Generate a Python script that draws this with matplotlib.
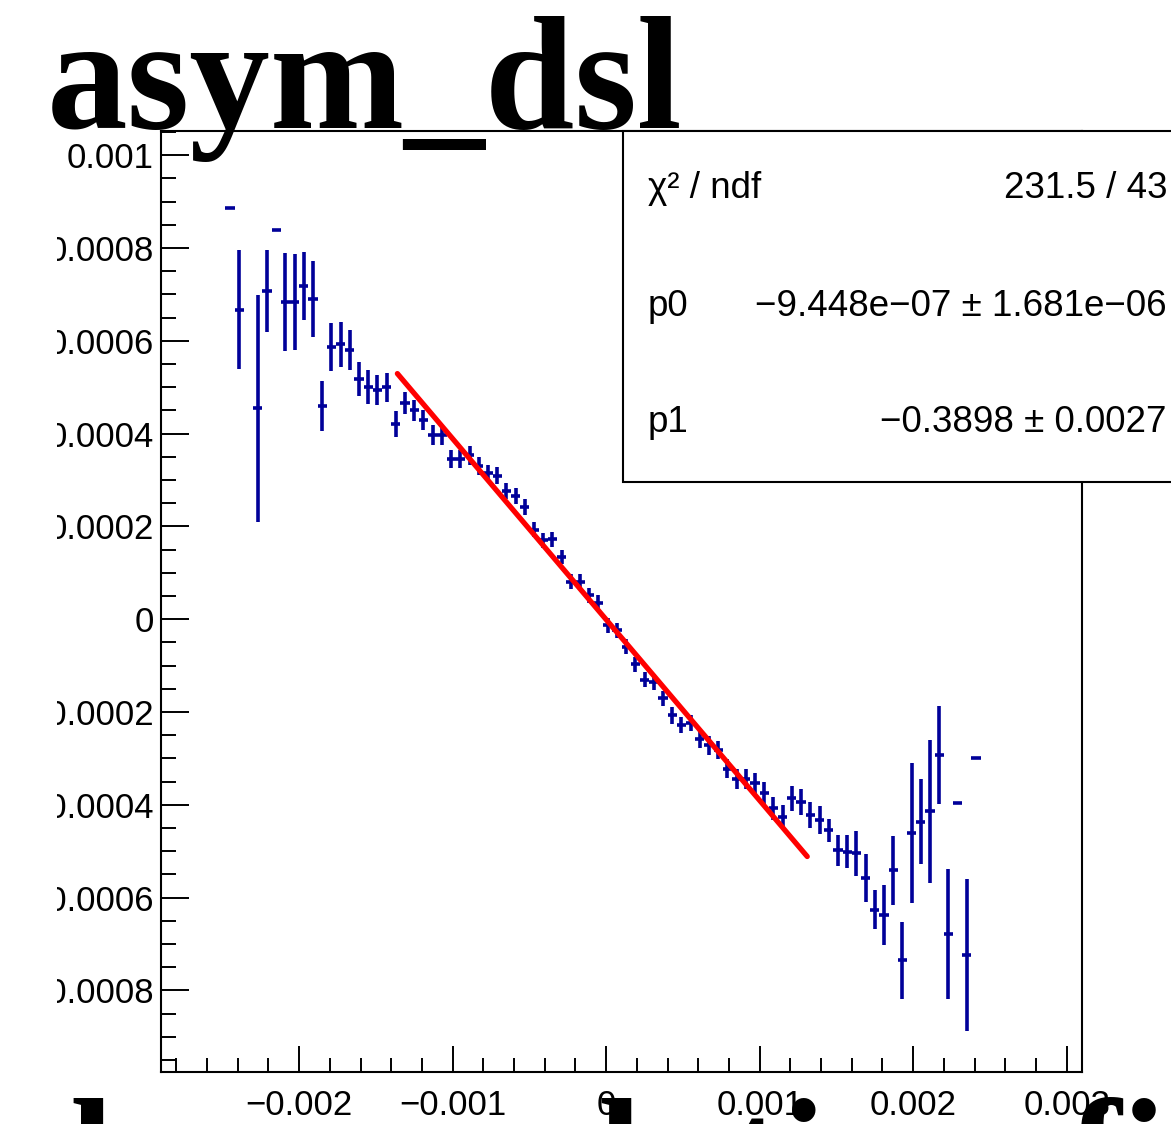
import matplotlib
matplotlib.use("Agg")
import matplotlib.pyplot as plt
from matplotlib.patches import Rectangle
from matplotlib.ticker import FixedLocator, MultipleLocator
from matplotlib.transforms import Bbox, TransformedBbox

# -----------------------------
# Data
# -----------------------------
bin_width = 0.00006

x_centers = [
    -0.00245, -0.00239, -0.00227, -0.00221, -0.00215, -0.00209, -0.00203, -0.00197,
    -0.00191, -0.00185, -0.00179, -0.00173, -0.00167, -0.00161, -0.00155, -0.00149,
    -0.00143, -0.00137, -0.00131, -0.00125, -0.00119, -0.00113, -0.00107, -0.00101,
    -0.00095, -0.00089, -0.00083, -0.00077, -0.00071, -0.00065, -0.00059, -0.00053,
    -0.00047, -0.00041, -0.00035, -0.00029, -0.00023, -0.00017, -0.00011, -0.00005,
    0.00001, 0.00007, 0.00013, 0.00019, 0.00025, 0.00031, 0.00037, 0.00043,
    0.00049, 0.00055, 0.00061, 0.00067, 0.00073, 0.00079, 0.00085, 0.00091,
    0.00097, 0.00103, 0.00109, 0.00115, 0.00121, 0.00127, 0.00133, 0.00139,
    0.00145, 0.00151, 0.00157, 0.00163, 0.00169, 0.00175, 0.00181, 0.00187,
    0.00193, 0.00199, 0.00205, 0.00211, 0.00217, 0.00223, 0.00229, 0.00235,
    0.00241,
]

asym_vals = [
    0.000885, 0.000667, 0.000454, 0.000707, 0.000838, 0.000684, 0.000684, 0.000718,
    0.000690, 0.000460, 0.000586, 0.000592, 0.000580, 0.000517, 0.000500, 0.000494,
    0.000500, 0.000420, 0.000466, 0.000450, 0.000429, 0.000397, 0.000397, 0.000345,
    0.000345, 0.000353, 0.000330, 0.000314, 0.000309, 0.000276, 0.000265, 0.000242,
    0.000193, 0.000170, 0.000172, 0.000134, 0.0000804, 0.0000804, 0.0000517, 0.0000351,
    -0.0000129, -0.0000237, -0.0000597, -0.000097, -0.000131, -0.000135, -0.000171, -0.000207,
    -0.000228, -0.000224, -0.000259, -0.000272, -0.000282, -0.000322, -0.000345, -0.000345,
    -0.000354, -0.000375, -0.000408, -0.000426, -0.000386, -0.000394, -0.000422, -0.000433,
    -0.000455, -0.000498, -0.000501, -0.000505, -0.000558, -0.000626, -0.000638, -0.000541,
    -0.000735, -0.000460, -0.000437, -0.000414, -0.000293, -0.000679, -0.000397, -0.000724,
    -0.000299,
]

asym_errs = [
    0.0, 0.000129, 0.000244, 0.0000888, 0.0, 0.000106, 0.000103, 0.0000743,
    0.0000826, 0.0000539, 0.0000513, 0.000048, 0.0000424, 0.000037, 0.000037, 0.0000316,
    0.0000312, 0.000028, 0.0000233, 0.000022, 0.000022, 0.000021, 0.000021, 0.00002,
    0.00002, 0.00002, 0.000019, 0.000018, 0.000018, 0.000018, 0.000017, 0.000017,
    0.000017, 0.000016, 0.000016, 0.000016, 0.000016, 0.000016, 0.000016, 0.000016,
    0.000016, 0.000016, 0.000016, 0.000016, 0.000016, 0.000017, 0.000017, 0.000018,
    0.000018, 0.000018, 0.000019, 0.00002, 0.00002, 0.000021, 0.000022, 0.000022,
    0.000023, 0.000024, 0.000025, 0.000026, 0.000027, 0.000028, 0.000028, 0.00003,
    0.000025, 0.000033, 0.000036, 0.0000485, 0.0000513, 0.0000424, 0.0000653, 0.0000743,
    0.0000826, 0.000151, 0.0000916, 0.000154, 0.000106, 0.00014, 0.0, 0.000163,
    0.0,
]

# fit result: pol1
p0 = -9.448e-07
p1 = -0.3898
fit_range = [-0.00136, 0.00131]

stat_names = ["χ² / ndf", "p0", "p1"]
stat_values = ["231.5 / 43", "−9.448e−07 ± 1.681e−06", "−0.3898 ± 0.0027"]

x_ticks = [-0.002, -0.001, 0.0, 0.001, 0.002, 0.003]
x_ticklabels = ["−0.002", "−0.001", "0", "0.001", "0.002", "0.003"]
y_ticks = [-0.0008, -0.0006, -0.0004, -0.0002, 0.0, 0.0002, 0.0004, 0.0006, 0.0008, 0.001]
y_ticklabels = ["−0.0008", "−0.0006", "−0.0004", "−0.0002", "0",
                "0.0002", "0.0004", "0.0006", "0.0008", "0.001"]

# -----------------------------
# Figure
# -----------------------------
W, H = 1171, 1124
fig = plt.figure(figsize=(W / 100, H / 100), dpi=100)
fig.patch.set_facecolor("white")

ax = fig.add_axes([161 / W, 1 - 1072 / H, (1082 - 161) / W, (1072 - 131) / H])
ax.set_xlim(-0.0029, 0.0031)
ax.set_ylim(-0.000976, 0.001052)

hist_color = "#000099"
ax.errorbar(
    x_centers, asym_vals,
    xerr=bin_width / 2, yerr=asym_errs,
    fmt="none", ecolor=hist_color, elinewidth=2.6, capsize=0, zorder=3
)

fx = fit_range
fy = [p0 + p1 * v for v in fx]
ax.plot(fx, fy, color="red", lw=3.8, zorder=4, solid_capstyle="round")

# axes style (ROOT-like)
for s in ax.spines.values():
    s.set_linewidth(1.5)
    s.set_color("black")

ax.xaxis.set_major_locator(FixedLocator(x_ticks))
ax.xaxis.set_minor_locator(MultipleLocator(0.0002))
ax.yaxis.set_major_locator(FixedLocator(y_ticks))
ax.yaxis.set_minor_locator(MultipleLocator(0.00005))
ax.set_xticklabels(x_ticklabels)
ax.set_yticklabels(y_ticklabels)

ax.tick_params(axis="both", which="both", direction="in", top=False, right=False,
               width=1.4, color="black")
ax.tick_params(axis="y", which="major", length=20, pad=5)
ax.tick_params(axis="y", which="minor", length=11)
ax.tick_params(axis="x", which="major", length=19, pad=12)
ax.tick_params(axis="x", which="minor", length=10)

for lab in ax.get_xticklabels() + ax.get_yticklabels():
    lab.set_fontfamily("Liberation Sans")
    lab.set_fontsize(25)

# y labels are clipped at the pad's left edge
pad_clip = TransformedBbox(Bbox([[57 / W, 0.0], [1.0, 1.0]]), fig.transFigure)
for lab in ax.get_yticklabels():
    lab.set_clip_on(True)
    lab.set_clip_box(pad_clip)

# -----------------------------
# Stats box
# -----------------------------
box = Rectangle((623 / W, 1 - 482 / H), (1190 - 623) / W, (482 - 131) / H,
                transform=fig.transFigure, facecolor="white", edgecolor="black",
                lw=1.5, zorder=5)
fig.add_artist(box)

row_y = [189, 306, 423]
for name, val, py in zip(stat_names, stat_values, row_y):
    fig.text(648 / W, 1 - py / H, name, ha="left", va="center",
             fontfamily="Liberation Sans", fontsize=26.5, zorder=6)
    fig.text(1167 / W, 1 - py / H, val, ha="right", va="center",
             fontfamily="Liberation Sans", fontsize=26.5, zorder=6)

# -----------------------------
# Titles (big serif text)
# -----------------------------
fig.text(47 / W, 1 - 128 / H, "asym_dsl", ha="left", va="baseline",
         fontfamily="Liberation Serif", fontweight="bold", fontsize=116, zorder=7)
fig.text(70 / W, 1 - 1207 / H, "lm_resolution_fit", ha="left", va="baseline",
         fontfamily="Liberation Serif", fontweight="bold", fontsize=113, zorder=7)

fig.savefig("out.png", dpi=100)
